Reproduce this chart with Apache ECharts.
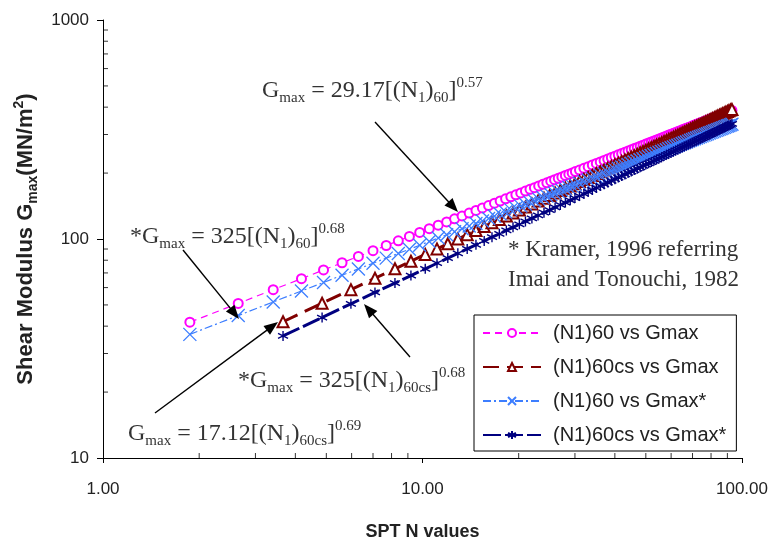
<!DOCTYPE html>
<html><head><meta charset="utf-8">
<script src="https://cdn.jsdelivr.net/npm/echarts/dist/echarts.min.js"></script>
<style>html,body{margin:0;padding:0;background:#fff}#c{width:774px;height:546px}</style>
</head><body><div id="c"></div>
<script>
// (N1)60 values and Gmax readings
const nA = [1.87, 2.65, 3.41, 4.18, 4.9, 5.6, 6.3, 7.0, 7.7, 8.4, 9.1, 9.8, 10.5, 11.2, 11.9, 12.6, 13.3, 14.0, 14.7, 15.4, 16.1, 16.8, 17.5, 18.2, 18.9, 19.6, 20.3, 21.0, 21.7, 22.4, 23.1, 23.8, 24.5, 25.2, 25.9, 26.6, 27.3, 28.0, 28.7, 29.4, 30.1,
  31, 32, 33, 34, 35, 36, 37, 38, 39, 40, 41, 42, 43, 44, 45, 46, 47, 48, 49, 50, 51, 52, 53, 54, 55, 56, 57, 58, 59, 60, 61, 62, 63, 64, 65, 66, 67, 68, 69, 70, 71, 72, 73, 74, 75, 76, 77, 78, 79, 80, 81, 82, 83, 84, 85, 86, 87, 88, 89, 90, 91, 92, 93];
const gmaxA = [41.7, 50.8, 58.7, 65.9, 72.2, 77.9, 83.3, 88.4, 93.4, 98.1, 102.7, 107.1, 111.4, 115.6, 119.7, 123.6, 127.5, 131.3, 135.0, 138.6, 142.2, 145.7, 149.1, 152.5, 155.8, 159.1, 162.3, 165.5, 168.6, 171.6, 174.7, 177.7, 180.6, 183.6, 186.5, 189.3, 192.1, 195.0, 197.7, 200.4, 203.2,
  206.5, 210.3, 214.0, 217.7, 221.3, 224.9, 228.5, 232.0, 235.4, 238.8, 242.2, 245.5, 248.9, 252.2, 255.4, 258.7, 261.8, 265.0, 268.1, 271.2, 274.3, 277.3, 280.4, 283.4, 286.4, 289.3, 292.3, 295.1, 298.1, 301.0, 303.7, 306.6, 309.4, 312.2, 315.0, 317.7, 320.5, 323.2, 325.8, 328.6, 331.2, 333.9, 336.5, 339.1, 341.7, 344.4, 346.9, 349.5, 352.0, 354.6, 357.0, 359.6, 362.1, 364.6, 367.0, 369.5, 371.9, 374.4, 376.8, 379.1, 381.5, 384.0, 386.3];
const gmaxAstar = [36.7, 44.7, 51.6, 57.9, 63.3, 68.3, 73.0, 77.5, 81.8, 85.9, 89.8, 93.7, 97.4, 101.0, 104.5, 108.0, 111.3, 114.6, 117.8, 120.9, 124.0, 127.0, 130.0, 132.9, 135.8, 138.6, 141.3, 144.1, 146.8, 149.4, 152.1, 154.7, 157.2, 159.7, 162.2, 164.7, 167.2, 169.6, 171.9, 174.3, 176.6,
  179.6, 182.8, 186.0, 189.2, 192.3, 195.4, 198.4, 201.5, 204.5, 207.4, 210.3, 213.2, 216.0, 218.9, 221.7, 224.5, 227.2, 229.9, 232.6, 235.3, 237.9, 240.5, 243.1, 245.7, 248.3, 250.8, 253.3, 255.8, 258.4, 260.8, 263.2, 265.7, 268.1, 270.5, 272.8, 275.2, 277.5, 279.9, 282.2, 284.5, 286.8, 289.1, 291.3, 293.6, 295.8, 298.1, 300.3, 302.4, 304.6, 306.8, 309.0, 311.1, 313.3, 315.4, 317.5, 319.6, 321.7, 323.7, 325.8, 327.9, 329.9, 332.0, 334.0];
// (N1)60cs values and Gmax readings
const nB = [3.66, 4.85, 5.97, 7.1, 8.2, 9.2, 10.2, 11.1, 12.0, 12.9, 13.8, 14.7, 15.6, 16.5, 17.4, 18.3, 19.2, 20.1,
  21, 22, 23, 24, 25, 26, 27, 28, 29, 30, 31, 32, 33, 34, 35, 36, 37, 38, 39, 40, 41, 42, 43, 44, 45, 46, 47, 48, 49, 50, 51, 52, 53, 54, 55, 56, 57, 58, 59, 60, 61, 62, 63, 64, 65, 66, 67, 68, 69, 70, 71, 72, 73, 74, 75, 76, 77, 78, 79, 80, 81, 82, 83, 84, 85, 86, 87, 88, 89, 90, 91, 92, 93];
const gmaxB = [41.9, 50.9, 58.7, 66.2, 73.1, 79.1, 85.0, 90.1, 95.1, 100.0, 104.7, 109.4, 113.9, 118.5, 122.9, 127.2, 131.5, 135.7,
  139.9, 144.5, 149.0, 153.4, 157.8, 162.1, 166.4, 170.7, 174.8, 178.9, 183.0, 187.1, 191.1, 195.1, 199.0, 202.9, 206.8, 210.7, 214.5, 218.3, 222.0, 225.7, 229.4, 233.1, 236.7, 240.3, 243.9, 247.5, 251.0, 254.6, 258.0, 261.5, 265.0, 268.4, 271.9, 275.3, 278.7, 282.0, 285.4, 288.7, 292.0, 295.3, 298.5, 301.8, 305.0, 308.3, 311.5, 314.7, 317.9, 321.1, 324.3, 327.3, 330.5, 333.6, 336.8, 339.9, 343.0, 345.9, 349.0, 352.1, 355.1, 358.1, 361.2, 364.2, 367.2, 370.1, 373.1, 376.1, 379.0, 381.9, 384.8, 387.8, 390.7];
const gmaxBstar = [36.1, 43.8, 50.6, 57.0, 62.9, 68.1, 73.1, 77.5, 81.8, 86.0, 90.1, 94.1, 98.0, 101.9, 105.6, 109.4, 113.1, 116.7,
  120.3, 124.2, 128.1, 131.9, 135.6, 139.3, 143.0, 146.6, 150.2, 153.8, 157.3, 160.8, 164.2, 167.6, 171.0, 174.4, 177.7, 181.0, 184.3, 187.5, 190.7, 193.9, 197.1, 200.2, 203.3, 206.4, 209.5, 212.5, 215.6, 218.6, 221.6, 224.6, 227.5, 230.5, 233.4, 236.4, 239.3, 242.2, 245.0, 247.9, 250.7, 253.6, 256.3, 259.2, 261.9, 264.7, 267.5, 270.2, 272.9, 275.7, 278.4, 281.1, 283.7, 286.4, 289.1, 291.7, 294.4, 297.0, 299.6, 302.2, 304.8, 307.4, 310.0, 312.6, 315.1, 317.7, 320.2, 322.8, 325.3, 327.8, 330.3, 332.8, 335.3];

const seriesNames = ['(N1)60 vs Gmax', '(N1)60cs vs Gmax', '(N1)60 vs Gmax*', '(N1)60cs vs Gmax*'];
const xMinorTicks = [2, 3, 4, 5, 6, 7, 8, 9, 20, 30, 40, 50, 60, 70, 80, 90];
const yMinorTicks = [20, 30, 40, 50, 60, 70, 80, 90, 200, 300, 400, 500, 600, 700, 800, 900];

const chart = echarts.init(document.getElementById('c'), null, {renderer: 'canvas'});

const serif = 'Liberation Serif';
const eqRich = {
  b: {fontFamily: serif, fontSize: 24, lineHeight: 30, color: '#333'},
  s: {fontFamily: serif, fontSize: 15, lineHeight: 20, verticalAlign: 'bottom', color: '#333'},
  p: {fontFamily: serif, fontSize: 15, lineHeight: 12, verticalAlign: 'top', color: '#333'}
};
function eqText(x, y, txt) {
  return {type: 'text', x: x, y: y, z: 100, style: {text: txt, rich: eqRich, fill: '#333'}};
}
function arrow(t, h) {
  const dx = h[0] - t[0], dy = h[1] - t[1], L = Math.hypot(dx, dy), ux = dx / L, uy = dy / L;
  const len = 14, w = 5.5;
  const bx = h[0] - ux * len, by = h[1] - uy * len;
  return [
    {type: 'line', z: 100, shape: {x1: t[0], y1: t[1], x2: bx + ux * 2, y2: by + uy * 2}, style: {stroke: '#000', lineWidth: 1.4}},
    {type: 'polygon', z: 100, shape: {points: [[h[0], h[1]], [bx - uy * w, by + ux * w], [bx + uy * w, by - ux * w]]}, style: {fill: '#000'}}
  ];
}

const graphics = [].concat(
  [eqText(262, 76, '{b|G}{s|max}{b| = 29.17[(N}{s|1}{b|)}{s|60}{b|]}{p|0.57}')],
  [eqText(130, 222, '{b|*G}{s|max}{b| = 325[(N}{s|1}{b|)}{s|60}{b|]}{p|0.68}')],
  [eqText(238, 366, '{b|*G}{s|max}{b| = 325[(N}{s|1}{b|)}{s|60cs}{b|]}{p|0.68}')],
  [eqText(128, 419, '{b|G}{s|max}{b| = 17.12[(N}{s|1}{b|)}{s|60cs}{b|]}{p|0.69}')],
  [{type: 'text', x: 508, y: 235, z: 100, style: {text: '* Kramer, 1996 referring\nImai and Tonouchi, 1982', font: '23px "Liberation Serif"', lineHeight: 30, fill: '#333'}}],
  arrow([375, 122], [458, 212]),
  arrow([183, 250], [239, 319]),
  arrow([410, 357], [364, 304]),
  arrow([155, 413], [278, 322])
);

const option = {
  animation: false,
  backgroundColor: '#fff',
  grid: {left: 103, right: 32, top: 20, bottom: 84, containLabel: false},
  xAxis: {
    type: 'log', logBase: 10, min: 1, max: 100, splitNumber: 2,
    axisLine: {lineStyle: {color: '#000', width: 1}},
    axisTick: {length: 5, lineStyle: {color: '#000'}},
    splitLine: {show: false},
    axisLabel: {formatter: v => Number(v).toFixed(2), fontSize: 17, color: '#222', fontFamily: 'Liberation Sans', margin: 23},
    name: 'SPT N values', nameLocation: 'middle', nameGap: 65,
    nameTextStyle: {fontSize: 18, fontWeight: 'bold', fontFamily: 'Liberation Sans', color: '#222'}
  },
  yAxis: {
    type: 'log', logBase: 10, min: 10, max: 1000, splitNumber: 2,
    axisLine: {show: true, lineStyle: {color: '#000', width: 1}},
    axisTick: {show: true, length: 6, lineStyle: {color: '#000'}},
    splitLine: {show: false},
    axisLabel: {formatter: v => String(Math.round(v)), fontSize: 17, color: '#222', fontFamily: 'Liberation Sans', margin: 14},
    name: 'Shear Modulus G{sub|max}(MN/m{sup|2})', nameLocation: 'middle', nameGap: 58, nameRotate: 90,
    nameTextStyle: {
      fontSize: 22, fontWeight: 'bold', fontFamily: 'Liberation Sans', color: '#222', lineHeight: 28,
      rich: {
        sub: {fontSize: 14, fontWeight: 'bold', fontFamily: 'Liberation Sans', color: '#222', lineHeight: 17, verticalAlign: 'bottom'},
        sup: {fontSize: 14, fontWeight: 'bold', fontFamily: 'Liberation Sans', color: '#222', lineHeight: 12, verticalAlign: 'top'}
      }
    }
  },
  legend: {
    data: seriesNames, orient: 'vertical', left: 474, top: 315,
    padding: [8, 10, 6, 8], itemWidth: 58, itemHeight: 10, itemGap: 14,
    borderColor: '#000', borderWidth: 1, backgroundColor: '#fff',
    textStyle: {fontSize: 20, fontFamily: 'Liberation Sans', color: '#222', lineHeight: 20, padding: [0, 0, 0, 7]}
  },
  graphic: graphics,
  series: [
    {name: seriesNames[0], type: 'line', data: nA.map((n, i) => [n, gmaxA[i]]), showAllSymbol: true,
      symbol: 'emptyCircle', symbolSize: 9, itemStyle: {color: '#FF00FF', borderWidth: 1.2},
      lineStyle: {color: '#FF00FF', width: 1.2, type: [7, 5]}, z: 2, emphasis: {disabled: true}},
    {name: seriesNames[1], type: 'line', data: nB.map((n, i) => [n, gmaxB[i]]), showAllSymbol: true,
      symbol: 'emptyTriangle', symbolSize: 11, itemStyle: {color: '#800000', borderWidth: 1.5},
      lineStyle: {color: '#800000', width: 3, type: [16, 8]}, z: 3, emphasis: {disabled: true}},
    {name: seriesNames[2], type: 'line', data: nA.map((n, i) => [n, gmaxAstar[i]]), showAllSymbol: true,
      symbol: 'path://M0,0L10,10M10,0L0,10', symbolSize: 13,
      itemStyle: {color: '#3D7EFF', borderColor: '#3D7EFF', borderWidth: 1.3},
      lineStyle: {color: '#3D7EFF', width: 1.2, type: [8, 3, 2, 3]}, z: 4, emphasis: {disabled: true}},
    {name: seriesNames[3], type: 'line', data: nB.map((n, i) => [n, gmaxBstar[i]]), showAllSymbol: true,
      symbol: 'path://M5,0L5,10M0.67,2.5L9.33,7.5M0.67,7.5L9.33,2.5', symbolSize: 10,
      itemStyle: {color: '#000080', borderColor: '#000080', borderWidth: 1.4},
      lineStyle: {color: '#000080', width: 3, type: [18, 4]}, z: 5, emphasis: {disabled: true}},
    {name: 'xminor', type: 'scatter', data: xMinorTicks.map(v => [v, 10]), symbol: 'rect', symbolSize: [1, 5],
      symbolOffset: [0, -2.5], itemStyle: {color: '#000'}, silent: true, clip: false, z: 1},
    {name: 'yminor', type: 'scatter', data: yMinorTicks.map(v => [1, v]), symbol: 'rect', symbolSize: [5, 1],
      symbolOffset: [2.5, 0], itemStyle: {color: '#000'}, silent: true, clip: false, z: 1}
  ]
};
chart.setOption(option);
</script>
</body></html>
